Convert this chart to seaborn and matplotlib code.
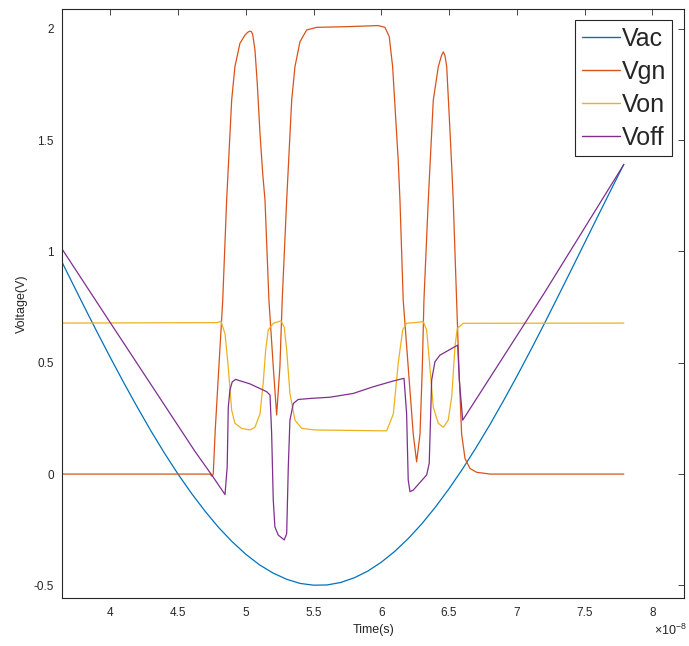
import numpy as np
import pandas as pd
import matplotlib
matplotlib.use("Agg")
import matplotlib.pyplot as plt
from matplotlib.ticker import FuncFormatter, MultipleLocator
import seaborn as sns

# Time axis in units of 1e-8 s
t_vac = [3.646, 3.7, 3.8, 3.9, 4.0, 4.1, 4.2, 4.3, 4.4, 4.5, 4.6, 4.7, 4.8,
         4.9, 5.0, 5.1, 5.2, 5.3, 5.4, 5.5, 5.6, 5.7, 5.8, 5.9, 6.0, 6.1, 6.2,
         6.3, 6.4, 6.5, 6.6, 6.7, 6.8, 6.9, 7.0, 7.1, 7.2, 7.3, 7.4, 7.5, 7.6,
         7.7, 7.79]
v_ac = [0.949, 0.883, 0.761, 0.641, 0.524, 0.410, 0.300, 0.194, 0.094, 0.000,
        -0.087, -0.167, -0.240, -0.304, -0.360, -0.407, -0.444, -0.472, -0.491,
        -0.499, -0.498, -0.487, -0.466, -0.436, -0.396, -0.347, -0.289, -0.223,
        -0.148, -0.066, 0.023, 0.119, 0.220, 0.327, 0.438, 0.553, 0.671, 0.792,
        0.914, 1.037, 1.160, 1.282, 1.391]

t_vgn = [3.646, 4.736, 4.752, 4.760, 4.775, 4.830, 4.859, 4.896, 4.920, 4.957,
         4.994, 5.015, 5.031, 5.042, 5.051, 5.068, 5.085, 5.105, 5.125, 5.142,
         5.171, 5.203, 5.228, 5.252, 5.269, 5.302, 5.339, 5.363, 5.400, 5.449,
         5.523, 5.745, 5.978, 6.027, 6.059, 6.084, 6.106, 6.125, 6.138, 6.162,
         6.199, 6.236, 6.261, 6.286, 6.303, 6.315, 6.347, 6.384, 6.421, 6.445,
         6.458, 6.470, 6.483, 6.502, 6.520, 6.531, 6.556, 6.573, 6.593, 6.618,
         6.655, 6.704, 6.802, 7.79]
v_gn = [0.0, 0.0, -0.01, 0.0, 0.2, 0.78, 1.23, 1.679, 1.829, 1.934,
        1.971, 1.984, 1.989, 1.986, 1.975, 1.904, 1.754, 1.530, 1.350, 1.230,
        0.781, 0.482, 0.265, 0.482, 0.781, 1.23, 1.679, 1.829, 1.941, 1.994,
        2.006, 2.009, 2.014, 2.006, 1.964, 1.829, 1.604, 1.410, 1.230, 0.781,
        0.48, 0.18, 0.055, 0.18, 0.48, 0.781, 1.23, 1.679, 1.829, 1.880,
        1.896, 1.880, 1.829, 1.604, 1.380, 1.230, 0.781, 0.48, 0.18, 0.07,
        0.025, 0.008, 0.0, 0.0]

t_von = [3.646, 4.79, 4.817, 4.847, 4.871, 4.896, 4.920, 4.970, 5.031, 5.068,
         5.105, 5.129, 5.147, 5.166, 5.203, 5.260, 5.284, 5.302, 5.326, 5.363,
         5.413, 5.511, 6.040, 6.089, 6.125, 6.158, 6.187, 6.310, 6.335, 6.359,
         6.384, 6.421, 6.458, 6.494, 6.520, 6.544, 6.561, 6.605, 7.79]
v_on = [0.678, 0.680, 0.686, 0.63, 0.48, 0.287, 0.228, 0.205, 0.198, 0.21,
        0.27, 0.41, 0.557, 0.647, 0.677, 0.688, 0.66, 0.557, 0.362, 0.242,
        0.205, 0.198, 0.194, 0.27, 0.497, 0.647, 0.677, 0.684, 0.647, 0.48,
        0.30, 0.228, 0.21, 0.242, 0.347, 0.572, 0.654, 0.677, 0.678]

t_voff = [3.646, 4.0, 4.625, 4.751, 4.847, 4.863, 4.871, 4.883, 4.900, 4.925,
          5.031, 5.154, 5.179, 5.191, 5.203, 5.215, 5.240, 5.284, 5.302, 5.314,
          5.326, 5.351, 5.387, 5.486, 5.621, 5.793, 5.941, 6.089, 6.168, 6.187,
          6.199, 6.212, 6.236, 6.335, 6.354, 6.372, 6.396, 6.433, 6.564, 6.576,
          6.601, 7.2, 7.79]
v_off = [1.009, 0.680, 0.102, -0.006, -0.092, 0.033, 0.30, 0.377, 0.414, 0.425,
         0.405, 0.37, 0.355, 0.183, -0.117, -0.237, -0.274, -0.296, -0.267, 0.033,
         0.242, 0.317, 0.335, 0.34, 0.345, 0.362, 0.392, 0.418, 0.43, 0.272,
         -0.027, -0.079, -0.072, -0.004, 0.048, 0.422, 0.504, 0.534, 0.579, 0.422,
         0.242, 0.81, 1.39]

series = [("Vac", t_vac, v_ac, "#0072BD"),
          ("Vgn", t_vgn, v_gn, "#D95319"),
          ("Von", t_von, v_on, "#EDB120"),
          ("Voff", t_voff, v_off, "#7E2F8E")]

sns.set_style("white")
plt.rcParams["font.family"] = ["Liberation Sans", "DejaVu Sans"]
plt.rcParams["axes.unicode_minus"] = False
plt.rcParams["mathtext.fontset"] = "custom"
plt.rcParams["mathtext.rm"] = "Liberation Sans"
plt.rcParams["mathtext.it"] = "Liberation Sans"

fig = plt.figure(figsize=(6.89, 6.46), dpi=100)
ax = fig.add_axes([0.0904, 0.0738, 0.9023, 0.9118])

for name, t, v, c in series:
    df = pd.DataFrame({"t": t, "v": v})
    sns.lineplot(data=df, x="t", y="v", ax=ax, color=c, lw=0.9,
                 label=name, estimator=None, sort=False)

ax.set_xlim(3.646, 8.234)
ax.set_ylim(-0.558, 2.087)
ax.xaxis.set_major_locator(MultipleLocator(0.5))
ax.yaxis.set_major_locator(MultipleLocator(0.5))
fmt = FuncFormatter(lambda val, pos: "%g" % round(val, 3))
ax.xaxis.set_major_formatter(fmt)
ax.yaxis.set_major_formatter(fmt)

dark = "#262626"
for s in ax.spines.values():
    s.set_visible(True)
    s.set_color(dark)
    s.set_linewidth(0.8)
ax.tick_params(direction="in", length=4.3, width=0.6, colors=dark,
               labelsize=8.5, top=True, right=True, pad=6)
ax.tick_params(axis="both", labelcolor=dark)

ax.set_xlabel("Time(s)", fontsize=9, color=dark, labelpad=4)
ax.set_ylabel("Voltage(V)", fontsize=9, color=dark, labelpad=4)
fig.text(0.997, 0.013, r"$\times10^{-8}$", ha="right", va="bottom",
         fontsize=9, color=dark)

leg = ax.legend(loc="upper right", bbox_to_anchor=(0.981, 0.981),
                borderaxespad=0, fontsize=18, handlelength=1.55,
                handletextpad=0.05, borderpad=0.25, labelspacing=0.36,
                fancybox=False, framealpha=1)
leg.get_frame().set_edgecolor(dark)
leg.get_frame().set_linewidth(0.8)
for line in leg.get_lines():
    line.set_linewidth(1.0)

fig.savefig("out.png", dpi=100, facecolor="white")
